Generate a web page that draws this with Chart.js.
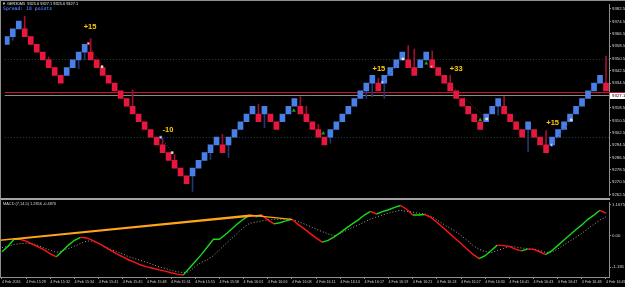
<!DOCTYPE html>
<html><head><meta charset="utf-8">
<script src="https://cdn.jsdelivr.net/npm/chart.js@4.4.1/dist/chart.umd.min.js"></script>
<style>
html,body{margin:0;padding:0;background:#000;width:625px;height:287px;overflow:hidden}
.pane{position:absolute;left:0;width:625px}
#p1{top:0;height:200px}
#p2{top:199px;height:88px}
</style></head><body>
<div class="pane" id="p1"><canvas id="c1"></canvas></div>
<div class="pane" id="p2"><canvas id="c2"></canvas></div>
<script>
// ---------------- data ----------------
const BRICK = 5;
const brickLow = [
 9359.6,9364.6,9369.6,9364.6,9359.6,9354.6,9349.6,9344.6,9339.6,9334.6,
 9339.6,9344.6,9349.6,9354.6,9349.6,9344.6,9339.6,9334.6,9329.6,9324.6,
 9319.6,9314.6,9309.6,9304.6,9299.6,9294.6,9289.6,9284.6,9279.6,9274.6,
 9269.6,9274.6,9279.6,9284.6,9289.6,9294.6,9289.6,9294.6,9299.6,9304.6,
 9309.6,9314.6,9309.6,9314.6,9309.6,9304.6,9309.6,9314.6,9319.6,9314.6,
 9309.6,9304.6,9299.6,9294.6,9299.6,9304.6,9309.6,9314.6,9319.6,9324.6,
 9329.6,9334.6,9329.6,9334.6,9339.6,9344.6,9349.6,9344.6,9339.6,9344.6,
 9349.6,9344.6,9339.6,9334.6,9329.6,9324.6,9319.6,9314.6,9309.6,9304.6,
 9309.6,9314.6,9319.6,9314.6,9309.6,9304.6,9299.6,9304.6,9299.6,9294.6,
 9289.6,9294.6,9299.6,9304.6,9309.6,9314.6,9319.6,9324.6,9329.6,9334.6,
 9329.6];
const brickDir = ("UUU"+"DDDDDDD"+"UUUU"+"DDDDDDDDDDDDDDDDD"+"UUUUU"+"D"+"UUUUU"+"D"+"U"+"DD"+"UUU"+
  "DDDDD"+"UUUUUUUU"+"D"+"UUUU"+"DD"+"UU"+"DDDDDDDDD"+"UUU"+"DDDD"+"U"+"DDD"+"UUUUUUUUU"+"D").split("");
const wickIdx = [1,3,7,12,13,14,21,26,28,31,34,36,37,42,43,49,50,52,54,60,61,62,63,67,68,71,74,82,83,87,90,100];
const wickEnd = [9362.1,9377.7,9351.4,9343.9,9349.6,9363.3,9330.2,9298.9,9288.3,9264.6,9285.2,9301.4,9286.5,9320.8,9305.8,9325.8,9319.6,9307.7,9295.8,9324.6,9325.8,9337.7,9324.6,9358.9,9356.5,9355.2,9339.6,9313.9,9325.8,9290.2,9303.9,9352.1];

const priceTicks = [9382.5,9374.5,9366.5,9358.5,9350.5,9342.5,9334.5,9326.5,9318.5,9310.5,9302.5,9294.5,9286.5,9278.5,9270.5,9262.5];
const gridLevels = [9350.2, 9299.6];
const bidPrice = 9327.1;
const askPrice = 9328.9;

const tradeSide = ['sell','buy','buy','sell','buy'];
const tradeOpenIdx = [13.6,25.7,62.7,70.9,90.9];
const tradeOpenPrice = [9360.2,9299.6,9335.2,9345.2,9294.6];
const tradeCloseIdx = [15.9,27.6,66.1,80.1,94.2];
const tradeClosePrice = [9345.2,9289.6,9350.2,9311.4,9310.8];
const profitText = ['+15','-10','+15','+33','+15'];
const profitIdx = [13.9,26.9,62.1,75.0,91.1];
const profitPrice = [9370.8,9304.6,9343.9,9343.9,9309.0];
const arrowIdx = [47.9,52.8,70.0,79.0];
const arrowPrice = [9316.8,9302.1,9347.4,9310.8];

const macdMain = [-0.60,-0.39,-0.13,-0.13,-0.20,-0.31,-0.42,-0.53,-0.68,-0.79,
 -0.57,-0.35,-0.17,-0.06,-0.08,-0.17,-0.28,-0.42,-0.55,-0.68,
 -0.79,-0.91,-1.00,-1.10,-1.17,-1.22,-1.28,-1.33,-1.39,-1.44,
 -1.48,-1.22,-0.97,-0.71,-0.42,-0.13,-0.13,0.05,0.25,0.45,
 0.63,0.78,0.71,0.78,0.60,0.45,0.49,0.56,0.62,0.43,
 0.27,0.09,-0.08,-0.24,-0.17,-0.04,0.12,0.29,0.45,0.60,
 0.78,0.92,0.82,0.91,0.98,1.07,1.14,1.00,0.78,0.78,
 0.80,0.69,0.51,0.31,0.11,-0.09,-0.29,-0.50,-0.70,-0.86,
 -0.75,-0.55,-0.35,-0.37,-0.40,-0.50,-0.57,-0.50,-0.51,-0.60,
 -0.71,-0.57,-0.37,-0.17,0.03,0.23,0.41,0.62,0.78,0.96,
 0.85];
const macdSignal = [-0.44,-0.39,-0.33,-0.29,-0.28,-0.29,-0.37,-0.46,-0.55,-0.62,
 -0.57,-0.48,-0.39,-0.29,-0.20,-0.20,-0.28,-0.40,-0.51,-0.60,
 -0.68,-0.79,-0.86,-0.93,-1.00,-1.08,-1.17,-1.22,-1.30,-1.35,
 -1.39,-1.35,-1.15,-1.00,-0.90,-0.75,-0.53,-0.31,-0.11,0.11,
 0.31,0.47,0.51,0.56,0.60,0.62,0.62,0.63,0.62,0.54,
 0.45,0.36,0.25,0.16,0.07,0.00,0.09,0.20,0.31,0.41,
 0.52,0.63,0.71,0.78,0.85,0.91,0.96,0.92,0.89,0.85,
 0.82,0.74,0.60,0.45,0.31,0.18,0.01,-0.17,-0.37,-0.51,
 -0.59,-0.64,-0.55,-0.48,-0.40,-0.42,-0.46,-0.48,-0.50,-0.55,
 -0.62,-0.62,-0.50,-0.35,-0.20,-0.06,0.09,0.27,0.43,0.60,
 0.71];
const trendStartIdx = [-0.33, 2, 41];
const trendStartVal = [-0.17, -0.13, 0.78];
const trendEndIdx = [41, 43, 48];
const trendEndVal = [0.78, 0.78, 0.62];
const macdTicks = [1.1675, 0, -1.181];
const macdTickText = ['1.1675', '0.00', '-1.181'];

const timeLabels = ['4 Feb 2016','4 Feb 15:29','4 Feb 15:32','4 Feb 15:34','4 Feb 15:41','4 Feb 15:45',
 '4 Feb 15:48','4 Feb 15:51','4 Feb 15:55','4 Feb 15:58','4 Feb 16:01','4 Feb 16:06','4 Feb 16:08',
 '4 Feb 16:11','4 Feb 16:14','4 Feb 16:17','4 Feb 16:19','4 Feb 16:21','4 Feb 16:24','4 Feb 16:27',
 '4 Feb 16:30','4 Feb 16:41','4 Feb 16:43','4 Feb 16:47','4 Feb 16:48','4 Feb 16:49'];

// ---------------- build ----------------
const X_MIN = -0.33, X_MAX = 100.5;
const FONT = '"Liberation Sans", Arial, sans-serif';
const BLUE = '#4b7fe8', RED = '#e8173f';
const FRAME = '#8e8e8e';

const brickData = brickLow.map((lo,i)=>({x:i, y:[lo, lo+BRICK]}));
const brickColors = brickDir.map(d=> d==='U' ? BLUE : RED);
const wickData = wickIdx.map((i,k)=>{
  const edge = brickDir[i]==='U' ? brickLow[i] : brickLow[i]+BRICK;
  return {x:i, y:[Math.min(edge,wickEnd[k]), Math.max(edge,wickEnd[k])]};
});
const wickColors = wickIdx.map(i=> brickDir[i]==='U' ? '#22376f' : '#9c1030');

function tradeLine(side){
  const pts=[];
  tradeSide.forEach((s,k)=>{ if(s===side){
    pts.push({x:tradeOpenIdx[k],y:tradeOpenPrice[k]},{x:tradeCloseIdx[k],y:tradeClosePrice[k]},{x:tradeCloseIdx[k]+0.01,y:null});
  }});
  return pts;
}
const sellOpen = tradeSide.map((s,k)=>s==='sell'?{x:tradeOpenIdx[k],y:tradeOpenPrice[k]}:null).filter(Boolean);
const buyOpen = tradeSide.map((s,k)=>s==='buy'?{x:tradeOpenIdx[k],y:tradeOpenPrice[k]}:null).filter(Boolean);
const closes = tradeCloseIdx.map((x,k)=>({x, y:tradeClosePrice[k]}));
const arrows = arrowIdx.map((x,k)=>({x, y:arrowPrice[k]}));

const mainPlugin = {
  id:'mainOverlay',
  beforeDatasetsDraw(chart){
    const {ctx, chartArea:a, scales:{y}} = chart;
    ctx.save();
    ctx.strokeStyle = '#1f4a3c'; ctx.lineWidth = 1; ctx.setLineDash([1,2]);
    gridLevels.forEach(p=>{ const yy = Math.round(y.getPixelForValue(p))+0.5;
      ctx.beginPath(); ctx.moveTo(a.left,yy); ctx.lineTo(a.right,yy); ctx.stroke(); });
    ctx.setLineDash([]);
    const by = Math.round(y.getPixelForValue(bidPrice))+0.5;
    ctx.strokeStyle = '#8a8a8a';
    ctx.beginPath(); ctx.moveTo(a.left,by); ctx.lineTo(a.right,by); ctx.stroke();
    const ay = Math.round(y.getPixelForValue(askPrice))+0.5;
    ctx.strokeStyle = '#d0102a';
    ctx.beginPath(); ctx.moveTo(a.left,ay); ctx.lineTo(a.right,ay); ctx.stroke();
    ctx.restore();
  },
  afterDatasetsDraw(chart){
    const {ctx, scales:{x,y}} = chart;
    ctx.save();
    ctx.font = 'bold 7.5px '+FONT; ctx.fillStyle = '#ffcc00';
    ctx.textAlign='center'; ctx.textBaseline='middle';
    profitText.forEach((t,k)=> ctx.fillText(t, x.getPixelForValue(profitIdx[k]), y.getPixelForValue(profitPrice[k])));
    ctx.restore();
  },
  afterDraw(chart){
    const {ctx, chartArea:a, scales:{y}} = chart;
    ctx.save();
    // frame
    ctx.fillStyle = FRAME;
    ctx.fillRect(0,0,625,1);
    ctx.fillRect(0,0,1,200);
    ctx.fillStyle = '#a4a4a4';
    ctx.fillRect(0,198,610,2);
    // price box
    const ay = Math.round(y.getPixelForValue(askPrice));
    const by = y.getPixelForValue(bidPrice);
    ctx.fillStyle = '#ffffff';
    ctx.fillRect(a.right+1, ay, 16, 7);
    ctx.fillStyle = '#d0102a';
    ctx.fillRect(a.right, ay, 16, 1);
    ctx.fillStyle = '#000';
    ctx.font = '4.4px '+FONT; ctx.textBaseline='middle'; ctx.textAlign='left';
    ctx.fillText(bidPrice.toFixed(1), a.right+3, ay+4);
    // title
    ctx.font = '3.9px '+FONT; ctx.fillStyle = '#e6e6e6';
    ctx.fillText('\u25BC GER30M5  9325.6 9327.1 9325.6 9327.1', 2, 4);
    ctx.font = 'bold 4.8px "DejaVu Sans Mono", monospace'; ctx.fillStyle = '#3f6fe0';
    ctx.fillText('Spread: 18 points', 3, 8.7);
    ctx.restore();
  }
};

new Chart(document.getElementById('c1'), {
  type:'bar',
  data:{datasets:[
    {type:'bar', data:wickData, backgroundColor:wickColors, barThickness:1, grouped:false, borderWidth:0, order:4},
    {type:'bar', data:brickData, backgroundColor:brickColors, barThickness:5, grouped:false, borderWidth:0, order:3},
    {type:'line', data:tradeLine('sell'), borderColor:'#a8132c', borderWidth:1, borderDash:[1,1.5], pointRadius:0, spanGaps:false, order:2},
    {type:'line', data:tradeLine('buy'), borderColor:'#2848a8', borderWidth:1, borderDash:[1,1.5], pointRadius:0, spanGaps:false, order:2},
    {type:'scatter', data:sellOpen, pointStyle:'rect', pointRadius:1.5, backgroundColor:'#ffffff', borderColor:RED, borderWidth:0.8, order:1},
    {type:'scatter', data:buyOpen, pointStyle:'rect', pointRadius:1.5, backgroundColor:'#ffffff', borderColor:BLUE, borderWidth:0.8, order:1},
    {type:'scatter', data:closes, pointStyle:'rect', pointRadius:1.4, backgroundColor:'#ffd23a', borderColor:'#ffffff', borderWidth:0.5, order:1},
    {type:'scatter', data:arrows, pointStyle:'triangle', pointRadius:2.3, backgroundColor:'#15a815', borderColor:'#15a815', borderWidth:0, order:1}
  ]},
  options:{
    animation:false, responsive:true, maintainAspectRatio:false, devicePixelRatio:1,
    layout:{padding:{left:0,right:0,top:0,bottom:3}},
    plugins:{legend:{display:false}, tooltip:{enabled:false}},
    scales:{
      x:{type:'linear', min:X_MIN, max:X_MAX, offset:false, display:false},
      y:{position:'right', min:9262.1, max:9385.2, beginAtZero:false,
         afterBuildTicks:s=>{ s.ticks = priceTicks.map(v=>({value:v})); },
         afterFit:s=>{ s.width = 16; },
         ticks:{color:'#d8d8d8', font:{family:FONT, size:4.3}, padding:1, autoSkip:false, callback:v=>Number(v).toFixed(1)},
         grid:{drawOnChartArea:false, drawTicks:true, tickLength:2, color:FRAME},
         border:{display:true, color:FRAME}}
    }
  },
  plugins:[mainPlugin]
});

// ---------------- indicator ----------------
const trendData = [];
trendStartIdx.forEach((s,k)=>{
  trendData.push({x:s,y:trendStartVal[k]},{x:trendEndIdx[k],y:trendEndVal[k]},{x:trendEndIdx[k],y:null});
});

const indPlugin = {
  id:'indOverlay',
  afterDraw(chart){
    const {ctx} = chart;
    ctx.save();
    ctx.fillStyle = FRAME;
    ctx.fillRect(0,0,1,79);
    ctx.font = '3.9px '+FONT; ctx.fillStyle = '#d6d6d6'; ctx.textBaseline='middle';
    ctx.fillText('MACD (7,14,5) 1.2856 -0.4876', 3, 4.5);
    ctx.restore();
  }
};

new Chart(document.getElementById('c2'), {
  type:'line',
  data:{datasets:[
    {data:trendData, borderColor:'#ffa31a', borderWidth:1.4, pointRadius:0, spanGaps:false, order:0},
    {data:macdMain.map((v,i)=>({x:i,y:v})), borderWidth:1.4, pointRadius:0, borderColor:'#19d819',
     segment:{borderColor:c=> c.p1.parsed.y >= c.p0.parsed.y ? '#19d819' : '#ff1414'}, order:1},
    {data:macdSignal.map((v,i)=>({x:i,y:v})), borderColor:'#a0a0a0', borderWidth:1, borderDash:[1,2], pointRadius:0, order:2}
  ]},
  options:{
    animation:false, responsive:true, maintainAspectRatio:false, devicePixelRatio:1,
    layout:{padding:{left:0,right:0,top:1,bottom:0}},
    plugins:{legend:{display:false}, tooltip:{enabled:false}},
    scales:{
      x:{type:'linear', min:X_MIN, max:X_MAX, offset:false, position:'bottom',
         afterBuildTicks:s=>{ s.ticks = timeLabels.map((_,k)=>({value:k*4})); },
         afterFit:s=>{ s.height = 10; s.paddingLeft = 0; s.paddingRight = 0; },
         ticks:{align:'start', color:'#d0d0d0', font:{family:FONT, size:3.7}, maxRotation:0, minRotation:0, autoSkip:false, padding:1,
                callback:(v,i)=>timeLabels[i]},
         grid:{drawOnChartArea:false, tickLength:2, color:FRAME},
         border:{display:true, color:FRAME}},
      y:{position:'right', min:-1.55, max:1.25,
         afterBuildTicks:s=>{ s.ticks = macdTicks.map(v=>({value:v})); },
         afterFit:s=>{ s.width = 16; },
         ticks:{color:'#d8d8d8', font:{family:FONT, size:4.3}, padding:1, autoSkip:false, callback:(v,i)=>macdTickText[i]},
         grid:{drawOnChartArea:false, tickLength:2, color:FRAME},
         border:{display:true, color:FRAME}}
    }
  },
  plugins:[indPlugin]
});
</script>
</body></html>
